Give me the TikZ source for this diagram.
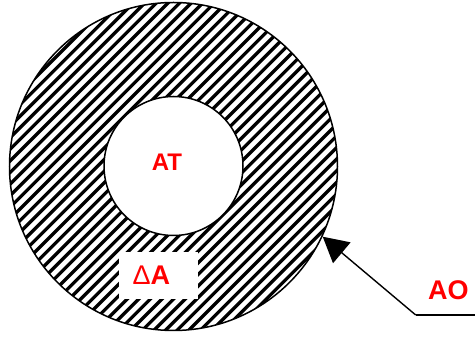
\documentclass[tikz,border=0pt]{standalone}
\usepackage{fontspec}
\setmainfont{Liberation Sans}
\usetikzlibrary{arrows.meta}
\tikzset{
  lbl/.style={text=red, font=\bfseries\fontsize{27}{27}\selectfont, inner sep=0pt},
  ring/.style={draw=black, line width=1.5pt},
  hatchline/.style={line width=3.3pt, black},
  pointer/.style={line width=1.4pt, -{Triangle[length=25pt,width=27pt]}}
}
\begin{document}
\begin{tikzpicture}[x=1pt,y=1pt]
\useasboundingbox (0,0) rectangle (475,337);
% hatched annulus
\begin{scope}
  \clip (173.5,170.5) circle (164);
  \foreach \c in {-340,-328.4,...,490} \draw[hatchline] (\c,0) -- ++(340,340);
\end{scope}
\draw[ring] (173.5,170.5) circle (164);
\draw[ring, fill=white] (173.5,171) circle (69.5);
% white box with Delta A
\node[fill=white, minimum width=79pt, minimum height=47pt, inner sep=0pt] (box) at (158.5,61.5) {};
\node[lbl, anchor=base west] (dA) at (132.5,52.7) {{\mdseries Δ}A};
\node[lbl, anchor=base, font=\bfseries\fontsize{24}{24}\selectfont] (AT) at (167,166.3) {AT};
\node[lbl, anchor=base] (AO) at (448.3,37) {AO};
% pointer
\coordinate (tail) at (415.7,22);
\coordinate (lineend) at (475,22);
\coordinate (tip) at (322.7,100.3);
\draw[line width=1.4pt] (lineend) -- (tail);
\draw[pointer] (tail) -- (tip);
\end{tikzpicture}
\end{document}
